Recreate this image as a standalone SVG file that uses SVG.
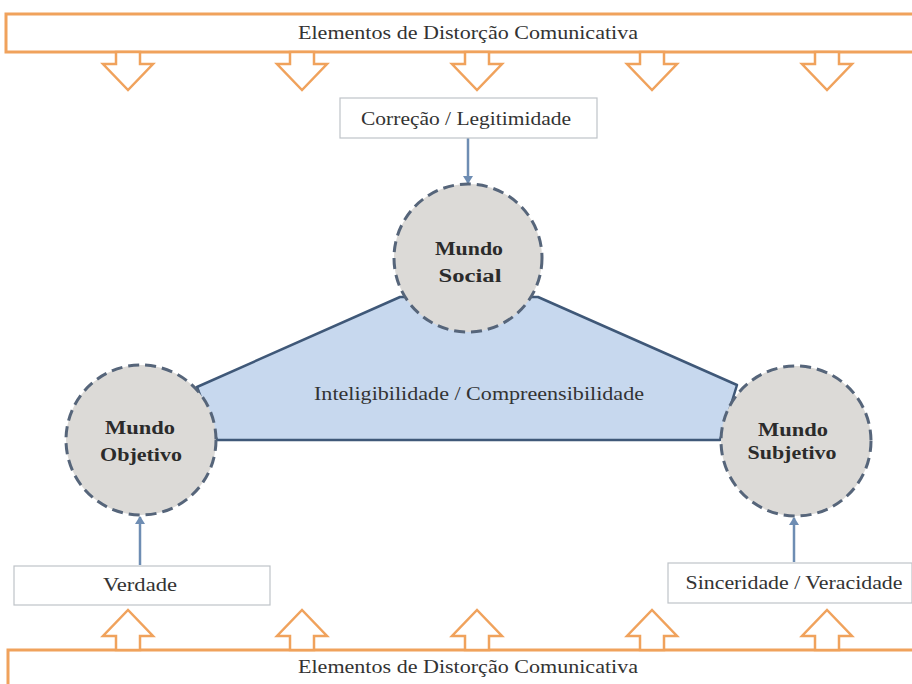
<svg xmlns="http://www.w3.org/2000/svg" width="912" height="684" viewBox="0 0 912 684">
<defs>
<style>
.banner{fill:#ffffff;stroke:#F0A25C;stroke-width:3}
.barrow{fill:#ffffff;stroke:#F0A25C;stroke-width:2.5;stroke-linejoin:miter}
.t{font-family:"Liberation Serif","Times New Roman",serif;font-size:19px;fill:#333333;text-anchor:middle}
.tb{font-family:"Liberation Serif","Times New Roman",serif;font-size:18px;font-weight:bold;fill:#2b2b2b;text-anchor:middle}
.box{fill:#ffffff;stroke:#BFC3C8;stroke-width:1.2}
.world{fill:#DCDAD7;stroke:#56657A;stroke-width:3;stroke-dasharray:11 6}
.link{stroke:#6E8DB3;stroke-width:2.5;fill:none;marker-end:url(#ah)}
.tri{fill:#C7D8EE;stroke:#3F5878;stroke-width:2.5;stroke-linejoin:round}
</style>
<marker id="ah" markerWidth="10" markerHeight="10" refX="7" refY="5" orient="auto" markerUnits="userSpaceOnUse" viewBox="0 0 10 10">
<path d="M0,0 L8,5 L0,10 z" fill="#6E8DB3"/>
</marker>
<path id="down" d="M-12,52 L12,52 L12,64 L25,64 L0,90 L-25,64 L-12,64 Z"/>
<path id="up" d="M-12,650 L12,650 L12,636 L25,636 L0,610 L-25,636 L-12,636 Z"/>
</defs>
<rect width="912" height="684" fill="#ffffff"/>

<g id="top-banner">
<rect class="banner" x="6" y="14" width="920" height="38"/>
<text class="t" x="468" y="39" textLength="340" lengthAdjust="spacingAndGlyphs">Elementos de Distorção Comunicativa</text>
</g>
<g id="top-arrows" class="barrow">
<use href="#down" x="128"/>
<use href="#down" x="302"/>
<use href="#down" x="477"/>
<use href="#down" x="652"/>
<use href="#down" x="827"/>
</g>

<g id="bottom-banner">
<rect class="banner" x="8" y="650" width="920" height="50"/>
<text class="t" x="468" y="673" textLength="340" lengthAdjust="spacingAndGlyphs">Elementos de Distorção Comunicativa</text>
</g>
<g id="bottom-arrows" class="barrow">
<use href="#up" x="128"/>
<use href="#up" x="302"/>
<use href="#up" x="477"/>
<use href="#up" x="652"/>
<use href="#up" x="827"/>
</g>

<g id="triangle">
<polygon class="tri" points="197,387 400,297 538,297 737,385 720,440 217,440"/>
<text class="t" x="479" y="400" textLength="330" lengthAdjust="spacingAndGlyphs">Inteligibilidade / Compreensibilidade</text>
</g>

<g id="connectors">
<line class="link" x1="468" y1="138" x2="468" y2="183"/>
<line class="link" x1="140" y1="565" x2="140" y2="517"/>
<line class="link" x1="794" y1="562" x2="794" y2="518"/>
</g>

<g id="correcao">
<rect class="box" x="340" y="98" width="257" height="40"/>
<text class="t" x="466" y="125" textLength="210" lengthAdjust="spacingAndGlyphs">Correção / Legitimidade</text>
</g>

<g id="verdade">
<rect class="box" x="14" y="566" width="256" height="39"/>
<text class="t" x="140" y="591" textLength="74" lengthAdjust="spacingAndGlyphs">Verdade</text>
</g>

<g id="sinceridade">
<rect class="box" x="668" y="563" width="244" height="40"/>
<text class="t" x="794" y="589" textLength="217" lengthAdjust="spacingAndGlyphs">Sinceridade / Veracidade</text>
</g>

<g id="mundo-social">
<circle class="world" cx="468" cy="258" r="74"/>
<text class="tb" x="469" y="255" textLength="68" lengthAdjust="spacingAndGlyphs">Mundo</text>
<text class="tb" x="470" y="282" textLength="63" lengthAdjust="spacingAndGlyphs">Social</text>
</g>

<g id="mundo-objetivo">
<circle class="world" cx="141" cy="440" r="75"/>
<text class="tb" x="140" y="434" textLength="70" lengthAdjust="spacingAndGlyphs">Mundo</text>
<text class="tb" x="141" y="461" textLength="82" lengthAdjust="spacingAndGlyphs">Objetivo</text>
</g>

<g id="mundo-subjetivo">
<circle class="world" cx="796" cy="441" r="75"/>
<text class="tb" x="793" y="436" textLength="70" lengthAdjust="spacingAndGlyphs">Mundo</text>
<text class="tb" x="792" y="459" textLength="89" lengthAdjust="spacingAndGlyphs">Subjetivo</text>
</g>
</svg>
